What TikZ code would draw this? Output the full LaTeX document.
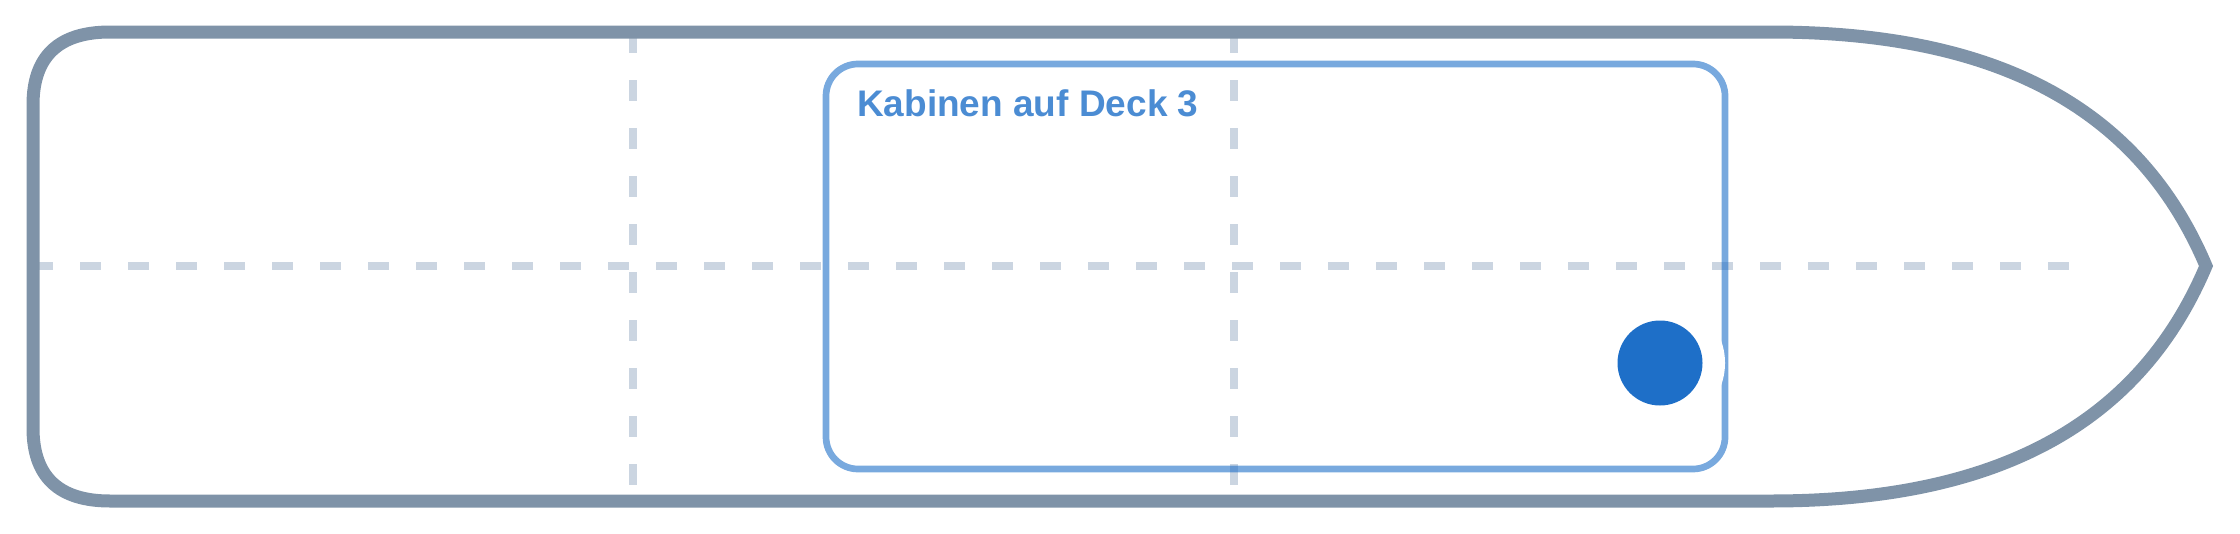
\documentclass[tikz,border=0pt]{standalone}
\usepackage{fontspec}
\setmainfont{Liberation Sans}
\definecolor{hullc}{HTML}{7F93A8}
\definecolor{gridc}{HTML}{CBD5E1}
\definecolor{cabblue}{HTML}{1E6FC8}
\begin{document}
\begin{tikzpicture}[x=1pt,y=-1pt,
  hull/.style={draw=hullc, line width=13pt, line join=miter},
  guide/.style={draw=gridc, line width=8pt, dash pattern=on 21pt off 27pt},
  cabin/.style={draw=cabblue, draw opacity=0.6, line width=6.7pt, rounded corners=32pt},
  decklabel/.style={text=cabblue, text opacity=0.8, font=\bfseries\fontsize{37}{44}\selectfont, anchor=base west, inner sep=0pt},
  marker/.style={circle, fill=cabblue, minimum size=85pt, inner sep=0pt},
  halo/.style={circle, fill=white, minimum size=130pt, inner sep=0pt}]
\useasboundingbox (0,0) rectangle (2240,533);
% guide lines
\coordinate (h1) at (32,266);  \coordinate (h2) at (2069,266);
\coordinate (v1t) at (633,32); \coordinate (v1b) at (633,501);
\coordinate (v2t) at (1234,32); \coordinate (v2b) at (1234,501);
\draw[guide] (h1) -- (h2);
\draw[guide] (v1t) -- (v1b);
\draw[guide] (v2t) -- (v2b);
% hull
\draw[hull] (110,32) -- (1771,32)
  .. controls (2000,32) and (2140,110) .. (2206,266)
  .. controls (2140,422) and (2000,501) .. (1771,501)
  -- (110,501) .. controls (58.7,501) and (33,476.7) .. (33,428)
  -- (33,105) .. controls (33,56.3) and (58.7,32) .. cycle;
% cabin area
\draw[cabin] (826,64) rectangle (1725,469);
\node[halo] (halo) at (1660,363) {};
\node[marker] (dot) at (1660,363) {};
\node[decklabel] (title) at (857,116.5) {Kabinen auf Deck 3};
\end{tikzpicture}
\end{document}
